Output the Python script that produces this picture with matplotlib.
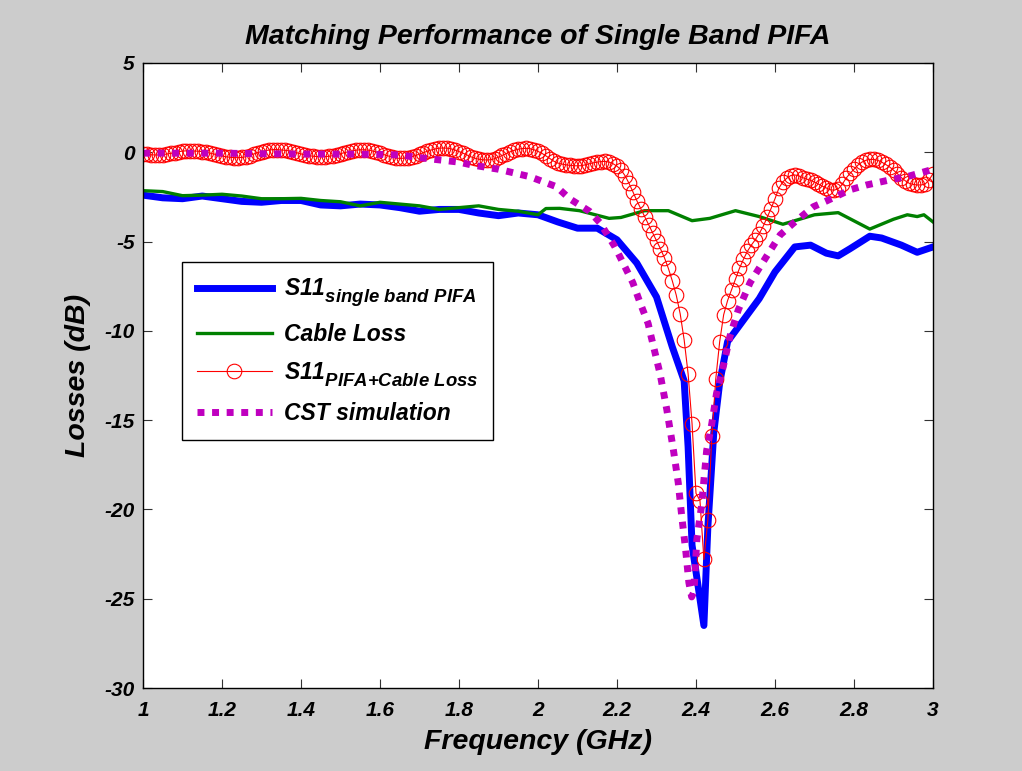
import numpy as np
import matplotlib
matplotlib.use("Agg")
import matplotlib.pyplot as plt
import matplotlib._mathtext as _mt

# ---------------- data ----------------
title = "Matching Performance of Single Band PIFA"
xlabel = "Frequency (GHz)"
ylabel = "Losses (dB)"
xticks = [1, 1.2, 1.4, 1.6, 1.8, 2, 2.2, 2.4, 2.6, 2.8, 3]
xticklabels = ["1", "1.2", "1.4", "1.6", "1.8", "2", "2.2", "2.4", "2.6", "2.8", "3"]
yticks = [5, 0, -5, -10, -15, -20, -25, -30]
yticklabels = ["5", "0", "-5", "-10", "-15", "-20", "-25", "-30"]

# S11 single band PIFA (measured)
f_s11 = [1.00, 1.05, 1.10, 1.15, 1.20, 1.25, 1.30, 1.35, 1.40, 1.45, 1.50, 1.55,
         1.60, 1.65, 1.70, 1.75, 1.80, 1.85, 1.90, 1.95, 2.00, 2.05, 2.10, 2.15,
         2.20, 2.25, 2.30, 2.34, 2.37, 2.38, 2.39, 2.40, 2.42, 2.43, 2.445, 2.46,
         2.48, 2.51, 2.56, 2.60, 2.65, 2.69, 2.73, 2.76, 2.79, 2.84, 2.87, 2.92,
         2.96, 3.00]
s11 = [-2.4, -2.55, -2.6, -2.45, -2.6, -2.75, -2.8, -2.7, -2.7, -2.95, -3.0, -2.9,
       -2.95, -3.1, -3.3, -3.2, -3.2, -3.4, -3.55, -3.4, -3.5, -3.9, -4.25, -4.25,
       -4.9, -6.2, -8.1, -10.9, -12.8, -16.5, -22.0, -23.5, -26.5, -21.0, -15.7, -12.9,
       -10.6, -9.7, -8.2, -6.7, -5.3, -5.2, -5.65, -5.8, -5.4, -4.7, -4.8, -5.2,
       -5.6, -5.3]

# Cable loss
f_cable = [1.00, 1.05, 1.10, 1.15, 1.20, 1.25, 1.30, 1.35, 1.40, 1.45, 1.50, 1.55,
           1.60, 1.65, 1.70, 1.75, 1.80, 1.85, 1.90, 1.95, 2.00, 2.02, 2.055, 2.105,
           2.18, 2.21, 2.27, 2.33, 2.39, 2.435, 2.50, 2.56, 2.62, 2.70, 2.76, 2.84,
           2.90, 2.935, 2.96, 2.977, 3.00]
cable = [-2.15, -2.2, -2.43, -2.4, -2.35, -2.45, -2.6, -2.6, -2.58, -2.7, -2.77, -3.0,
         -2.8, -2.9, -3.0, -3.2, -3.1, -3.0, -3.2, -3.3, -3.5, -3.15, -3.14, -3.27,
         -3.7, -3.65, -3.27, -3.27, -3.83, -3.7, -3.27, -3.6, -4.03, -3.5, -3.38, -4.3,
         -3.75, -3.5, -3.6, -3.5, -3.9]

# S11 PIFA + cable loss, sampled every 10 MHz from 1 to 3 GHz
f_corr = np.linspace(1.0, 3.0, 201)
s11_corr = [
    -0.10, -0.12, -0.14, -0.15, -0.15, -0.13, -0.10, -0.06, -0.02, 0.03,
    0.07, 0.08, 0.08, 0.07, 0.06, 0.04, 0.00, -0.05, -0.10, -0.16,
    -0.21, -0.25, -0.28, -0.30, -0.30, -0.29, -0.25, -0.18, -0.10, -0.02,
    0.04, 0.09, 0.13, 0.15, 0.15, 0.13, 0.11, 0.08, 0.03, -0.03,
    -0.09, -0.15, -0.19, -0.22, -0.24, -0.24, -0.24, -0.23, -0.19, -0.14,
    -0.08, -0.02, 0.03, 0.08, 0.12, 0.14, 0.14, 0.12, 0.08, 0.02,
    -0.06, -0.13, -0.20, -0.27, -0.32, -0.34, -0.33, -0.30, -0.25, -0.18,
    -0.10, -0.02, 0.06, 0.13, 0.19, 0.23, 0.24, 0.23, 0.19, 0.12,
    0.04, -0.05, -0.15, -0.25, -0.33, -0.39, -0.42, -0.43, -0.42, -0.36,
    -0.27, -0.17, -0.07, 0.03, 0.11, 0.17, 0.21, 0.22, 0.20, 0.14,
    0.05, -0.06, -0.20, -0.35, -0.50, -0.60, -0.66, -0.70, -0.73, -0.75,
    -0.76, -0.75, -0.70, -0.64, -0.59, -0.55, -0.52, -0.51, -0.55, -0.64,
    -0.78, -0.98, -1.30, -1.72, -2.20, -2.70, -3.15, -3.60, -4.05, -4.50,
    -4.95, -5.40, -5.90, -6.50, -7.20, -8.00, -9.05, -10.5, -12.4, -15.2,
    -19.1, -19.5, -22.8, -20.6, -15.9, -12.7, -10.6, -9.1, -8.3, -7.7,
    -7.1, -6.5, -6.0, -5.55, -5.2, -4.9, -4.55, -4.15, -3.65, -3.15,
    -2.6, -2.0, -1.65, -1.45, -1.3, -1.27, -1.32, -1.42, -1.5, -1.57,
    -1.67, -1.78, -1.9, -2.0, -2.1, -2.12, -2.05, -1.8, -1.45, -1.18,
    -0.95, -0.72, -0.55, -0.45, -0.4, -0.4, -0.45, -0.55, -0.68, -0.82,
    -1.0, -1.2, -1.42, -1.6, -1.74, -1.8, -1.83, -1.83, -1.78, -1.55,
    -1.2,
]

# CST simulation
f_cst = [1.00, 1.10, 1.20, 1.30, 1.40, 1.50, 1.60, 1.65, 1.70, 1.80, 1.83, 1.90,
         1.98, 2.047, 2.08, 2.13, 2.157, 2.195, 2.24, 2.258, 2.279, 2.284, 2.309,
         2.326, 2.343, 2.355, 2.364, 2.374, 2.382, 2.389, 2.395, 2.402, 2.414,
         2.427, 2.44, 2.452, 2.469, 2.486, 2.507, 2.537, 2.578, 2.613, 2.646,
         2.697, 2.73, 2.79, 2.832, 2.89, 2.94, 2.98, 3.00]
cst = [-0.05, -0.05, -0.05, -0.08, -0.1, -0.1, -0.12, -0.15, -0.3, -0.55, -0.7, -0.95,
       -1.37, -1.93, -2.6, -3.3, -3.95, -5.3, -7.3, -8.4, -9.6, -10.1, -12.4,
       -14.4, -16.7, -18.5, -20.4, -22.3, -24.1, -24.9, -24.6, -21.7, -19.8,
       -16.7, -15.2, -13.5, -12.0, -10.3, -8.83, -7.3, -5.85, -4.63, -3.98,
       -3.05, -2.73, -2.1, -1.83, -1.55, -1.33, -1.08, -0.95]

labels = [r"S11$_{\mathrm{single\ band\ PIFA}}$",
          "Cable Loss",
          r"S11$_{\mathrm{PIFA{+}Cable\ Loss}}$",
          "CST simulation"]

# ---------------- style ----------------
plt.rcParams["font.family"] = ["Liberation Sans", "DejaVu Sans"]
plt.rcParams["font.weight"] = "bold"
plt.rcParams["font.style"] = "italic"
plt.rcParams["mathtext.fontset"] = "custom"
plt.rcParams["mathtext.rm"] = "Liberation Sans:bold:italic"
plt.rcParams["mathtext.it"] = "Liberation Sans:bold:italic"
plt.rcParams["mathtext.bf"] = "Liberation Sans:bold:italic"
# larger, lower subscripts (as in the reference legend)
_mt.SHRINK_FACTOR = 0.81
try:
    _mt.FontConstantsBase.sub1 = 0.6
except Exception:
    pass

W, H = 1022, 771
fig = plt.figure(figsize=(W / 100, H / 100), dpi=100, facecolor="#cccccc")
ax = fig.add_axes([143 / W, (H - 688) / H, 790 / W, 625 / H])
ax.set_facecolor("white")

ax.plot(f_s11, s11, color="#0000ff", lw=5, label=labels[0], solid_joinstyle="round")
ax.plot(f_cable, cable, color="#008000", lw=2.4, label=labels[1])
ax.plot(f_corr, s11_corr, color="#ff0000", lw=0.8, marker="o", ms=10.5,
        mfc="none", mec="#ff0000", mew=0.8, label=labels[2])
ax.plot(f_cst, cst, color="#bf00bf", lw=5, linestyle=(0, (1, 1.1)), label=labels[3])

ax.set_xlim(1, 3)
ax.set_ylim(-30, 5)
ax.set_xticks(xticks)
ax.set_xticklabels(xticklabels)
ax.set_yticks(yticks)
ax.set_yticklabels(yticklabels)
ax.tick_params(direction="in", length=6.5, width=0.8, color="#333333",
               top=True, right=True, labelsize=15)
ax.tick_params(axis="x", pad=9)
ax.tick_params(axis="y", pad=6)
for lab in ax.get_xticklabels() + ax.get_yticklabels():
    lab.set_fontweight("bold")
    lab.set_fontstyle("italic")
for sp in ax.spines.values():
    sp.set_linewidth(1.0)
    sp.set_color("black")

ax.set_xlabel(xlabel, fontsize=20.5, fontweight="bold", fontstyle="italic", labelpad=7)
ax.set_ylabel(ylabel, fontsize=20.5, fontweight="bold", fontstyle="italic", labelpad=10)
ax.set_title(title, fontsize=20.5, fontweight="bold", fontstyle="italic", pad=14)

leg = ax.legend(loc="upper left", bbox_to_anchor=(0.049, 0.682), borderaxespad=0,
                fontsize=16.5, frameon=True, fancybox=False, framealpha=1,
                edgecolor="black", handlelength=3.3, handletextpad=0.5,
                labelspacing=0.6, borderpad=0.65)
leg.get_frame().set_linewidth(1.0)

fig.savefig("out.png", dpi=100, facecolor=fig.get_facecolor())
